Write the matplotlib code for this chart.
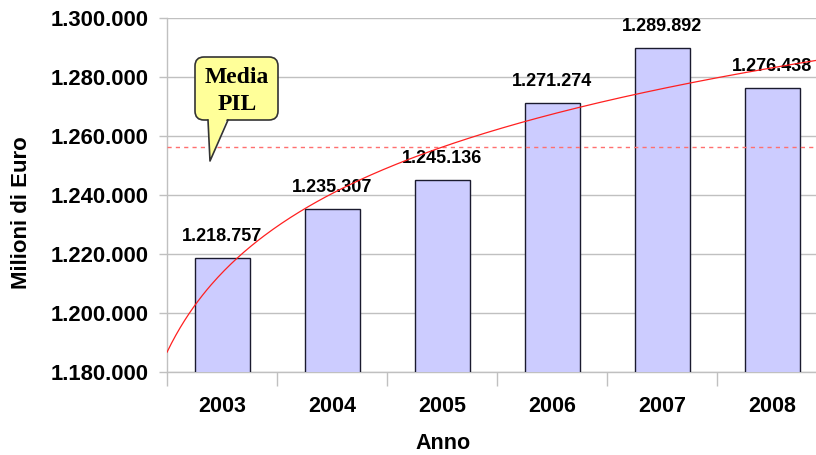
import numpy as np
import matplotlib.pyplot as plt
from matplotlib.patches import FancyBboxPatch, Polygon
from matplotlib.ticker import FuncFormatter, MultipleLocator
import matplotlib.transforms as mtransforms

anni = ["2003", "2004", "2005", "2006", "2007", "2008"]
pil = [1218757, 1235307, 1245136, 1271274, 1289892, 1276438]

def punti(v):
    return f"{v:,.0f}".replace(",", ".")

fig = plt.figure(figsize=(8.16, 4.55), dpi=100)
ax = fig.add_axes([167 / 816, 1 - 372 / 455, 660 / 816, 354 / 455])

x = np.arange(len(anni))
ax.bar(x, pil, width=0.5, color="#CCCCFF", edgecolor="#1a1a2e", linewidth=1.0, zorder=3)

for xi, v in zip(x, pil):
    ax.annotate(punti(v), (xi, v), xytext=(0, 9), textcoords="offset points",
                ha="center", va="bottom", fontsize=13, fontweight="bold",
                family="Liberation Sans", zorder=4)

# media e linea di tendenza logaritmica
media = np.mean(pil)
ax.axhline(media, color="#FF7070", linestyle=(0, (3, 3)), linewidth=1.0, zorder=5)

n = x + 1
a, b = np.polyfit(np.log(n), pil, 1)
xt = np.linspace(0.5, 6.5, 300)
ax.plot(xt - 1, a * np.log(xt) + b, color="#FF2020", linewidth=0.9, zorder=6)

ax.set_xlim(-0.5, 5.5)
ax.set_ylim(1180000, 1300000)
ax.yaxis.set_major_locator(MultipleLocator(20000))
ax.yaxis.set_major_formatter(FuncFormatter(lambda v, p: punti(v)))
ax.set_xticks(x)
ax.set_xticklabels(anni)
ax.set_xticks(np.arange(-0.5, 6, 1), minor=True)
ax.tick_params(axis="x", which="major", length=0, pad=17)
ax.tick_params(axis="x", which="minor", length=10, color="#c0c0c0", width=1)
ax.tick_params(axis="y", length=6, color="#c0c0c0", width=1, pad=7)
for lab in ax.get_xticklabels():
    lab.set_fontsize(15.5)
    lab.set_fontweight("bold")
    lab.set_family("Liberation Sans")
for lab in ax.get_yticklabels():
    lab.set_fontsize(15.8)
    lab.set_fontweight("bold")
    lab.set_family("Liberation Sans")

ax.grid(axis="y", color="#c0c0c0", linewidth=1, zorder=0)
ax.set_axisbelow(True)
for s in ["top", "right"]:
    ax.spines[s].set_visible(False)
for s in ["left", "bottom"]:
    ax.spines[s].set_color("#c0c0c0")
    ax.spines[s].set_linewidth(1)

fig.text(22 / 816, 1 - 213 / 455, "Milioni di Euro", rotation=90, ha="center", va="center",
         fontsize=16, fontweight="bold", family="Liberation Sans")
fig.text(443 / 816, 1 - 454 / 455, "Anno", ha="center", va="bottom",
         fontsize=15.5, fontweight="bold", family="Liberation Sans")

# fumetto "Media PIL" in coordinate pixel (origine in alto a sinistra)
px = mtransforms.Affine2D().scale(1 / 816, -1 / 455).translate(0, 1) + fig.transFigure
box = FancyBboxPatch((195, 57), 83, 63, boxstyle="round,pad=0,rounding_size=9",
                     fc="#FFFF99", ec="#333333", lw=1.2, transform=px, zorder=10)
fig.add_artist(box)
coda = Polygon([(208, 116), (228, 116), (210, 161)], closed=True, fc="#FFFF99", ec="none",
               transform=px, zorder=11)
fig.add_artist(coda)
fig.add_artist(plt.Line2D([208, 210, 228], [120, 161, 120], color="#333333", lw=1.2,
                          transform=px, zorder=12))
fig.text(237 / 816, 1 - 91 / 455, "Media\nPIL", ha="center", va="center", fontsize=17,
         fontweight="bold", family="Liberation Serif", linespacing=1.35, zorder=13)

fig.savefig("out.png", dpi=100)
